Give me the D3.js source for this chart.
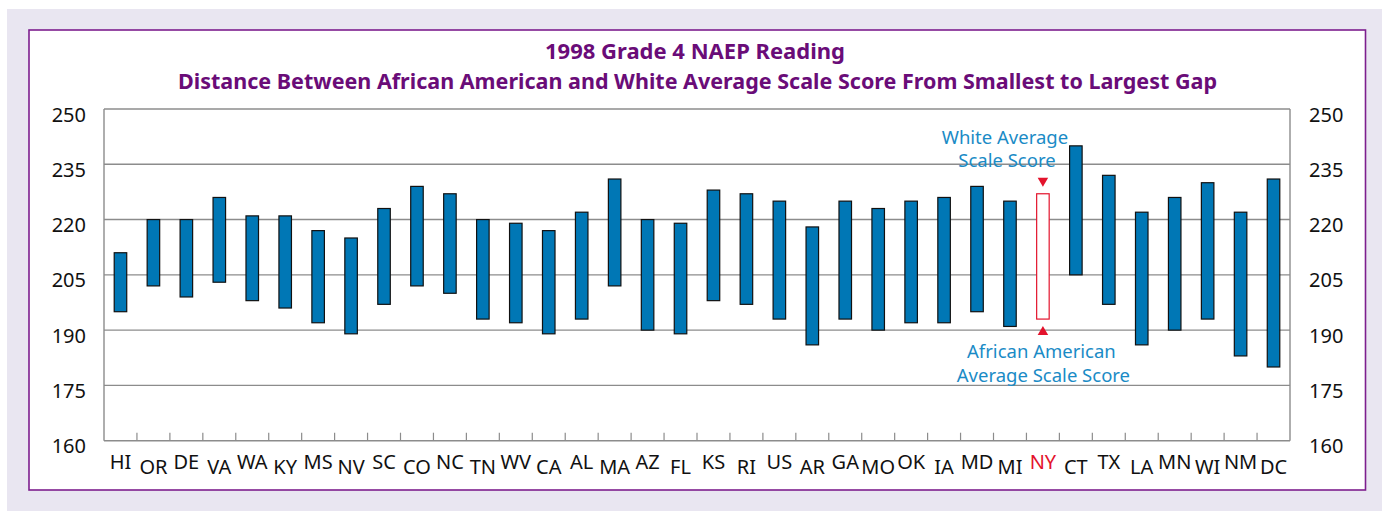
<!DOCTYPE html>
<html>
<head>
<meta charset="utf-8">
<script src="https://cdn.jsdelivr.net/npm/d3@7/dist/d3.min.js"></script>
<style>
  html, body { margin: 0; padding: 0; background: #ffffff; }
  svg { display: block; }
  text { font-family: "Noto Sans", "Open Sans", sans-serif; }
</style>
</head>
<body>
<svg id="chart" width="1392" height="511"></svg>
<script>
const states = ["HI","OR","DE","VA","WA","KY","MS","NV","SC","CO","NC","TN","WV","CA","AL","MA","AZ","FL","KS","RI","US","AR","GA","MO","OK","IA","MD","MI","NY","CT","TX","LA","MN","WI","NM","DC"];
const whiteScores = [211,220,220,226,221,221,217,215,223,229,227,220,219,217,222,231,220,219,228,227,225,218,225,223,225,226,229,225,227,240,232,222,226,230,222,231];
const blackScores = [195,202,199,203,198,196,192,189,197,202,200,193,192,189,193,202,190,189,198,197,193,186,193,190,192,192,195,191,193,205,197,186,190,193,183,180];
const yTicks = [160,175,190,205,220,235,250];
const highlight = "NY";
const titleLines = ["1998 Grade 4 NAEP Reading","Distance Between African American and White Average Scale Score From Smallest to Largest Gap"];
const noteTop = ["White Average","Scale Score"];
const noteBottom = ["African American","Average Scale Score"];

const svg = d3.select("#chart");
const W = 1392, H = 511;
const plot = {left: 104, right: 1290, top: 109, bottom: 440.7};

// background
svg.append("rect").attr("x",0).attr("y",0).attr("width",W).attr("height",H).attr("fill","#ffffff");
svg.append("rect").attr("x",7).attr("y",9).attr("width",1375).attr("height",H-9).attr("fill","#e9e6f1");
svg.append("rect").attr("x",29).attr("y",30).attr("width",1336.5).attr("height",460).attr("fill","#ffffff")
  .attr("stroke","#7d1f8e").attr("stroke-width",1.6);

// titles
const titleY = [59, 89];
titleLines.forEach((t,i) => {
  svg.append("text").attr("x", i===0 ? 695 : 697.5).attr("y", titleY[i])
    .attr("text-anchor","middle").attr("font-weight","bold").attr("font-size",21)
    .attr("fill","#6a0c78").attr("textLength", i===0 ? 300 : 1039).attr("lengthAdjust","spacingAndGlyphs")
    .text(t);
});

const x = d3.scaleBand().domain(states).range([plot.left, plot.right]).padding(0);
const y = d3.scaleLinear().domain([160,250]).range([plot.bottom, plot.top]);

// gridlines
svg.append("g").selectAll("line").data(yTicks.filter(v => v > 160)).join("line")
  .attr("x1", plot.left).attr("x2", plot.right)
  .attr("y1", d => y(d)).attr("y2", d => y(d))
  .attr("stroke","#8c8c8c").attr("stroke-width",1.4);

// frame lines
svg.append("line").attr("x1",plot.left).attr("x2",plot.left).attr("y1",plot.top).attr("y2",plot.bottom).attr("stroke","#8c8c8c").attr("stroke-width",1.4);
svg.append("line").attr("x1",plot.right).attr("x2",plot.right).attr("y1",plot.top).attr("y2",plot.bottom).attr("stroke","#8c8c8c").attr("stroke-width",1.4);
svg.append("line").attr("x1",plot.left).attr("x2",plot.right).attr("y1",plot.bottom).attr("y2",plot.bottom).attr("stroke","#8c8c8c").attr("stroke-width",1.4);

// category tick marks at boundaries
svg.append("g").selectAll("line").data(states.slice(1)).join("line")
  .attr("x1", d => x(d)).attr("x2", d => x(d))
  .attr("y1", plot.bottom).attr("y2", plot.bottom - 8)
  .attr("stroke","#8c8c8c").attr("stroke-width",1.2);

// y axis labels left & right
const yAxisL = d3.axisLeft(y).tickValues(yTicks).tickSize(0).tickPadding(0);
const gL = svg.append("g").attr("transform", `translate(86,0)`).call(yAxisL);
gL.select(".domain").remove();
gL.selectAll("text").attr("font-size",20).attr("fill","#111").attr("dy","0.6em")
  .attr("font-family","'Noto Sans', sans-serif");
const yAxisR = d3.axisRight(y).tickValues(yTicks).tickSize(0).tickPadding(0);
const gR = svg.append("g").attr("transform", `translate(1309,0)`).call(yAxisR);
gR.select(".domain").remove();
gR.selectAll("text").attr("font-size",20).attr("fill","#111").attr("dy","0.6em")
  .attr("font-family","'Noto Sans', sans-serif");

// bars
const data = states.map((s,i) => ({state:s, white:whiteScores[i], black:blackScores[i]}));
const bw = x.bandwidth()*0.38;
svg.append("g").selectAll("rect").data(data).join("rect")
  .attr("x", d => x(d.state) + x.bandwidth()/2 - bw/2)
  .attr("y", d => y(d.white))
  .attr("width", bw)
  .attr("height", d => y(d.black) - y(d.white))
  .attr("fill", d => d.state === highlight ? "#ffffff" : "#0077b5")
  .attr("stroke", d => d.state === highlight ? "#e3132c" : "#111")
  .attr("stroke-width", 1.2);

// x labels (staggered)
svg.append("g").selectAll("text").data(states).join("text")
  .attr("x", d => x(d) + x.bandwidth()/2)
  .attr("y", (d,i) => i % 2 === 0 ? 469 : 473.5)
  .attr("text-anchor","middle").attr("font-size",20)
  .attr("fill", d => d === highlight ? "#e3132c" : "#111")
  .text(d => d);

// annotations for highlighted bar
const hd = data.find(d => d.state === highlight);
const cx = x(hd.state) + x.bandwidth()/2;
const tri = d3.symbol().type(d3.symbolTriangle).size(48);
svg.append("path").attr("d", tri()).attr("fill","#e3132c")
  .attr("transform", `translate(${cx},${y(hd.white) - 13}) rotate(180)`);
svg.append("path").attr("d", tri()).attr("fill","#e3132c")
  .attr("transform", `translate(${cx},${y(hd.black) + 13})`);

const noteColor = "#1a8bc6";
svg.append("text").attr("x", cx - 38).attr("y", 144).attr("text-anchor","middle").attr("font-size",18.5).attr("fill",noteColor).text(noteTop[0]);
svg.append("text").attr("x", cx - 36).attr("y", 167.3).attr("text-anchor","middle").attr("font-size",18.5).attr("fill",noteColor).text(noteTop[1]);
svg.append("text").attr("x", cx - 1.5).attr("y", 358.3).attr("text-anchor","middle").attr("font-size",18.5).attr("fill",noteColor).text(noteBottom[0]);
svg.append("text").attr("x", cx + 0.5).attr("y", 382).attr("text-anchor","middle").attr("font-size",18.5).attr("fill",noteColor).text(noteBottom[1]);
</script>
</body>
</html>
